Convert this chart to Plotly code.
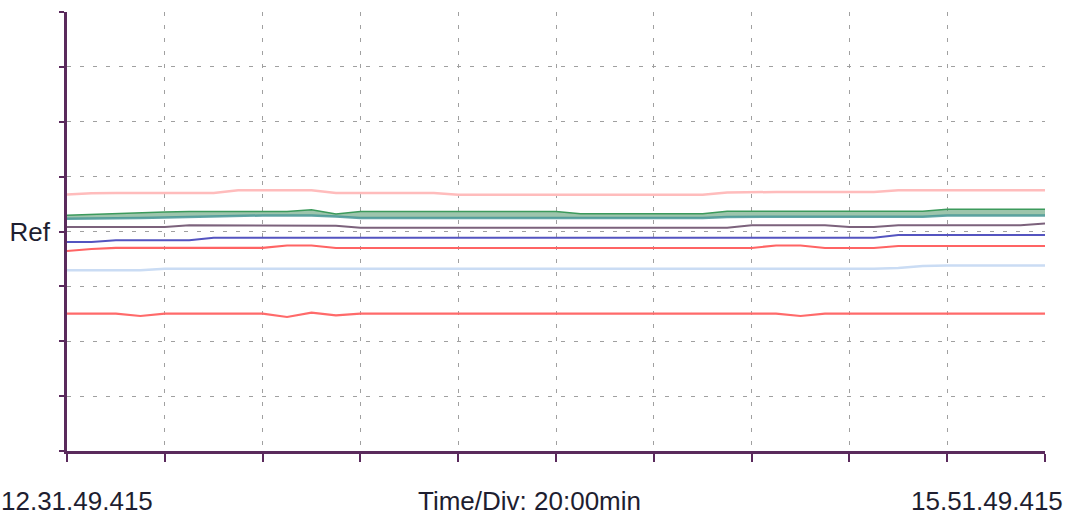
import plotly.graph_objects as go

# ---- data -------------------------------------------------------------
start_label = "12.31.49.415"
end_label = "15.51.49.415"
div_label = "Time/Div: 20:00min"

# elapsed minutes since start (one sample every 5 min)
elapsed_min = [0, 5, 10, 15, 20, 25, 30, 35, 40, 45, 50, 55, 60, 65, 70, 75, 80,
               85, 90, 95, 100, 105, 110, 115, 120, 125, 130, 135, 140, 145, 150,
               155, 160, 165, 170, 175, 180, 185, 190, 195, 200]

x_ticks = [0, 20, 40, 60, 80, 100, 120, 140, 160, 180, 200]
y_ticks = [-4, -3, -2, -1, 0, 1, 2, 3, 4]
y_ticktext = ["", "", "", "", "Ref", "", "", "", ""]

# values in divisions relative to Ref
pink = [0.674, 0.696, 0.702, 0.702, 0.702, 0.702, 0.702, 0.751, 0.751, 0.751,
        0.751, 0.702, 0.702, 0.702, 0.702, 0.702, 0.671, 0.671, 0.671, 0.671,
        0.671, 0.671, 0.671, 0.671, 0.671, 0.671, 0.671, 0.711, 0.720, 0.720,
        0.720, 0.720, 0.720, 0.720, 0.751, 0.751, 0.751, 0.751, 0.751, 0.751,
        0.751]
green = [0.295, 0.313, 0.328, 0.341, 0.355, 0.364, 0.364, 0.364, 0.364, 0.364,
         0.397, 0.319, 0.364, 0.364, 0.364, 0.364, 0.364, 0.364, 0.364, 0.364,
         0.364, 0.324, 0.324, 0.324, 0.324, 0.324, 0.324, 0.368, 0.368, 0.368,
         0.368, 0.368, 0.368, 0.368, 0.368, 0.368, 0.405, 0.405, 0.405, 0.405,
         0.405]
teal = [0.233, 0.233, 0.241, 0.246, 0.255, 0.264, 0.273, 0.292, 0.292, 0.292,
        0.292, 0.273, 0.246, 0.246, 0.246, 0.246, 0.246, 0.246, 0.246, 0.246,
        0.246, 0.246, 0.246, 0.246, 0.246, 0.246, 0.246, 0.264, 0.270, 0.270,
        0.270, 0.270, 0.270, 0.270, 0.270, 0.270, 0.292, 0.292, 0.292, 0.292,
        0.292]
purple = [0.082, 0.082, 0.082, 0.082, 0.082, 0.113, 0.113, 0.113, 0.113, 0.113,
          0.113, 0.104, 0.069, 0.069, 0.069, 0.069, 0.069, 0.069, 0.069, 0.069,
          0.069, 0.069, 0.069, 0.069, 0.069, 0.069, 0.069, 0.069, 0.113, 0.113,
          0.113, 0.113, 0.082, 0.082, 0.113, 0.113, 0.113, 0.113, 0.113, 0.113,
          0.146]
blue = [-0.191, -0.191, -0.160, -0.160, -0.160, -0.160, -0.113, -0.113, -0.113,
        -0.113, -0.113, -0.113, -0.113, -0.113, -0.113, -0.113, -0.113, -0.113,
        -0.113, -0.113, -0.113, -0.113, -0.113, -0.113, -0.113, -0.113, -0.113,
        -0.113, -0.113, -0.113, -0.113, -0.113, -0.113, -0.113, -0.064, -0.064,
        -0.064, -0.064, -0.064, -0.064, -0.064]
red_upper = [-0.355, -0.319, -0.297, -0.297, -0.297, -0.297, -0.297, -0.297,
             -0.297, -0.255, -0.255, -0.301, -0.301, -0.301, -0.301, -0.301,
             -0.301, -0.301, -0.301, -0.301, -0.301, -0.301, -0.301, -0.301,
             -0.301, -0.301, -0.301, -0.301, -0.301, -0.255, -0.255, -0.301,
             -0.301, -0.301, -0.264, -0.264, -0.264, -0.264, -0.264, -0.264,
             -0.264]
light_blue = [-0.707, -0.707, -0.707, -0.707, -0.680, -0.680, -0.680, -0.680,
              -0.680, -0.680, -0.680, -0.680, -0.680, -0.680, -0.680, -0.680,
              -0.680, -0.680, -0.680, -0.680, -0.680, -0.680, -0.680, -0.680,
              -0.680, -0.680, -0.680, -0.680, -0.680, -0.680, -0.680, -0.680,
              -0.680, -0.680, -0.665, -0.629, -0.618, -0.618, -0.618, -0.618,
              -0.618]
red_lower = [-1.498, -1.498, -1.498, -1.540, -1.498, -1.498, -1.498, -1.498,
             -1.498, -1.558, -1.480, -1.527, -1.498, -1.498, -1.498, -1.498,
             -1.498, -1.498, -1.498, -1.498, -1.498, -1.498, -1.498, -1.498,
             -1.498, -1.498, -1.498, -1.498, -1.498, -1.498, -1.540, -1.498,
             -1.498, -1.498, -1.498, -1.498, -1.498, -1.498, -1.498, -1.498,
             -1.498]

# ---- style ------------------------------------------------------------
AXIS = "#5a2a5c"
GRID = "#a0a0a0"
TEXT = "#1e1e30"
FONT = "Liberation Sans, Arial, sans-serif"
FS = 26

fig = go.Figure()

def line(y, color, width, **kw):
    fig.add_trace(go.Scatter(x=elapsed_min, y=y, mode="lines",
                             line=dict(color=color, width=width, shape="linear"),
                             hoverinfo="skip", showlegend=False, **kw))

line(pink, "#ffbcbc", 2.5)
line(teal, "rgba(70,150,150,0.85)", 2.5)
line(green, "#3c9a5c", 1.6, fill="tonexty", fillcolor="rgba(60,140,90,0.5)")
line(purple, "#7c627c", 2)
line(blue, "#5454c0", 2)
line(red_upper, "#ff6464", 2.2)
line(light_blue, "#cadcf4", 2.5)
line(red_lower, "#ff6a6a", 2.2)

fig.update_layout(
    width=1071, height=519,
    margin=dict(l=67, r=26, t=12, b=68, autoexpand=False),
    paper_bgcolor="white", plot_bgcolor="white",
    font=dict(family=FONT, color=TEXT, size=FS),
    xaxis=dict(range=[0, 200], tickvals=x_ticks, showticklabels=False,
               ticks="outside", ticklen=8, tickwidth=2, tickcolor=AXIS,
               showline=True, linecolor=AXIS, linewidth=2.5,
               showgrid=True, gridcolor=GRID, gridwidth=1.4, griddash="4px,9px",
               zeroline=False, fixedrange=True, automargin=False),
    xaxis2=dict(range=[0, 200], tickvals=x_ticks, showticklabels=False,
                overlaying="x", anchor="y", side="bottom",
                ticks="inside", ticklen=6, tickwidth=2, tickcolor=AXIS,
                showline=False, showgrid=False, zeroline=False, automargin=False),
    yaxis=dict(range=[-4, 4], tickvals=y_ticks, ticktext=y_ticktext,
               ticks="outside", ticklen=5, tickwidth=2, tickcolor=AXIS,
               tickfont=dict(size=FS, color=TEXT, family=FONT),
               ticklabelstandoff=4,
               showline=True, linecolor=AXIS, linewidth=2.5,
               showgrid=True, gridcolor=GRID, gridwidth=1.4, griddash="4px,9px",
               zeroline=False, fixedrange=True, automargin=False),
    yaxis2=dict(range=[-4, 4], tickvals=y_ticks, showticklabels=False,
                overlaying="y", anchor="x", side="left",
                ticks="inside", ticklen=6, tickwidth=2, tickcolor=AXIS,
                showline=False, showgrid=False, zeroline=False, automargin=False),
    annotations=[
        dict(text=start_label, xref="paper", yref="paper", x=-0.0695, y=-0.114,
             xanchor="left", yanchor="middle", showarrow=False,
             font=dict(size=FS, color=TEXT, family=FONT)),
        dict(text=div_label, xref="paper", yref="paper", x=0.4724, y=-0.114,
             xanchor="center", yanchor="middle", showarrow=False,
             font=dict(size=FS, color=TEXT, family=FONT)),
        dict(text=end_label, xref="paper", yref="paper", x=1.0204, y=-0.114,
             xanchor="right", yanchor="middle", showarrow=False,
             font=dict(size=FS, color=TEXT, family=FONT)),
    ],
)

fig.write_html("out.html", config={"displayModeBar": False},
               post_script="document.body.style.margin='0';document.body.style.overflow='hidden';")
